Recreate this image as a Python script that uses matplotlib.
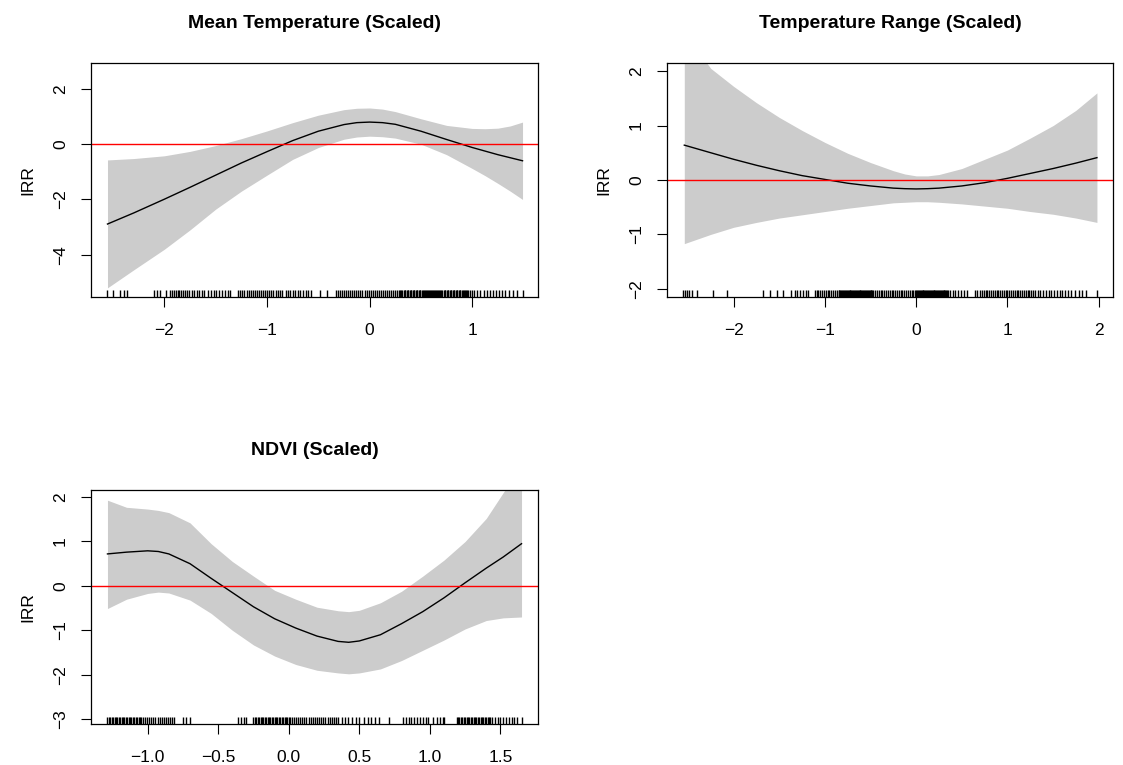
import matplotlib
matplotlib.use("Agg")
import matplotlib.pyplot as plt

plt.rcParams['font.family'] = ['Liberation Sans', 'DejaVu Sans']

# --- Mean Temperature (Scaled) ---
temp_x = [-2.555, -2.3, -2.0, -1.75, -1.5, -1.25, -1.0, -0.75, -0.5, -0.25,
          -0.125, 0.0, 0.125, 0.25, 0.5, 0.75, 1.0, 1.125, 1.25, 1.37, 1.49]
temp_fit = [-2.89, -2.49, -1.99, -1.56, -1.12, -0.68, -0.27, 0.13, 0.47, 0.71,
            0.78, 0.80, 0.78, 0.72, 0.47, 0.17, -0.12, -0.25, -0.38, -0.49, -0.60]
temp_hi = [-0.57, -0.52, -0.42, -0.26, -0.05, 0.20, 0.48, 0.78, 1.05, 1.25,
           1.30, 1.31, 1.27, 1.18, 0.92, 0.68, 0.57, 0.56, 0.58, 0.66, 0.80]
temp_lo = [-5.20, -4.55, -3.80, -3.10, -2.35, -1.70, -1.12, -0.55, -0.12, 0.18,
           0.26, 0.29, 0.27, 0.22, 0.00, -0.38, -0.88, -1.14, -1.42, -1.70, -2.00]
temp_rug = [-2.555, -2.505, -2.435, -2.39, -2.36, -2.10, -2.07, -2.04,
            -1.98, -1.95, -1.93, -1.91, -1.89, -1.87, -1.86, -1.84, -1.82, -1.80,
            -1.78, -1.76, -1.73, -1.71, -1.68, -1.66, -1.63, -1.61, -1.58, -1.55,
            -1.52, -1.50, -1.47, -1.44, -1.41, -1.38, -1.36,
            -1.28, -1.26, -1.24, -1.22, -1.20, -1.18, -1.16, -1.14, -1.12, -1.10,
            -1.08, -1.06, -1.04, -1.02, -1.00, -0.98, -0.96, -0.94, -0.91, -0.89,
            -0.87, -0.85, -0.82, -0.80, -0.78, -0.75, -0.73, -0.70, -0.68, -0.65,
            -0.62, -0.60, -0.57, -0.48, -0.42,
            -0.33, -0.31, -0.29, -0.27, -0.25, -0.23, -0.21, -0.19, -0.17, -0.15,
            -0.13, -0.11, -0.09, -0.07, -0.05, -0.03, -0.01, 0.01, 0.03, 0.05,
            0.07, 0.09, 0.11, 0.13, 0.15, 0.17, 0.19, 0.21, 0.23, 0.25, 0.27,
            0.29, 0.30, 0.31, 0.32, 0.33, 0.34, 0.345, 0.36, 0.37, 0.375, 0.39,
            0.40, 0.405, 0.42, 0.43, 0.435, 0.45, 0.46, 0.465, 0.48, 0.49, 0.495,
            0.51, 0.52, 0.525, 0.54, 0.55, 0.555, 0.57, 0.58, 0.585, 0.60, 0.61,
            0.615, 0.63, 0.64, 0.645, 0.66, 0.67, 0.675, 0.69, 0.70, 0.705, 0.72,
            0.73, 0.735, 0.75, 0.76, 0.765, 0.78, 0.79, 0.795, 0.81, 0.82, 0.825,
            0.84, 0.85, 0.855, 0.87, 0.88, 0.885, 0.90, 0.91, 0.92, 0.93, 0.94,
            0.95, 0.96, 0.98, 1.00, 1.02, 1.05, 1.08, 1.11, 1.14, 1.17,
            1.20, 1.23, 1.26, 1.29, 1.32, 1.36, 1.40, 1.44, 1.49]

# --- Temperature Range (Scaled) ---
range_x = [-2.54, -2.25, -2.0, -1.75, -1.5, -1.25, -1.0, -0.75, -0.5, -0.25,
           -0.125, 0.0, 0.125, 0.25, 0.5, 0.75, 1.0, 1.25, 1.5, 1.75, 1.98]
range_fit = [0.64, 0.50, 0.38, 0.27, 0.17, 0.08, 0.01, -0.06, -0.11, -0.15,
             -0.16, -0.165, -0.16, -0.15, -0.11, -0.05, 0.03, 0.12, 0.21, 0.31,
             0.41]
range_hi = [2.70, 2.05, 1.72, 1.42, 1.15, 0.91, 0.69, 0.49, 0.32, 0.17,
            0.11, 0.075, 0.075, 0.10, 0.21, 0.38, 0.55, 0.77, 1.00, 1.28, 1.60]
range_lo = [-1.17, -1.00, -0.87, -0.78, -0.70, -0.64, -0.58, -0.52, -0.47, -0.42,
            -0.41, -0.40, -0.40, -0.41, -0.44, -0.48, -0.52, -0.58, -0.63, -0.70,
            -0.78]
range_rug = [-2.55, -2.53, -2.51, -2.49, -2.46, -2.40, -2.23, -2.07,
             -1.68, -1.60, -1.53, -1.46, -1.37, -1.33, -1.30, -1.27, -1.24, -1.21,
             -1.19, -1.11, -1.09, -1.07, -1.05, -1.03, -1.01, -0.99, -0.97, -0.95,
             -0.93, -0.91, -0.89, -0.87, -0.85, -0.84, -0.83, -0.82, -0.81, -0.80,
             -0.79, -0.78, -0.77, -0.76, -0.75, -0.74, -0.73, -0.72, -0.71, -0.70,
             -0.69, -0.68, -0.67, -0.66, -0.65, -0.64, -0.63, -0.62, -0.61, -0.60,
             -0.59, -0.58, -0.57, -0.56, -0.55, -0.54, -0.53, -0.52, -0.51, -0.50,
             -0.49, -0.48, -0.47, -0.45, -0.43, -0.41, -0.39, -0.37, -0.35, -0.33,
             -0.31, -0.29, -0.27, -0.25, -0.23, -0.21, -0.19, -0.17, -0.15, -0.13,
             -0.11, -0.09, -0.07, -0.05, -0.03, -0.01, 0.00, 0.01, 0.02, 0.03,
             0.04, 0.05, 0.06, 0.07, 0.08, 0.09, 0.10, 0.11, 0.12, 0.13, 0.14,
             0.15, 0.16, 0.17, 0.18, 0.19, 0.20, 0.21, 0.22, 0.23, 0.24, 0.25,
             0.26, 0.27, 0.28, 0.29, 0.30, 0.31, 0.32, 0.33, 0.34, 0.35, 0.37,
             0.40, 0.43, 0.46, 0.49, 0.52, 0.56,
             0.64, 0.67, 0.70, 0.72, 0.74, 0.76, 0.78, 0.80, 0.82, 0.84, 0.86,
             0.88, 0.90, 0.92, 0.94, 0.96, 0.98, 1.00, 1.02, 1.04, 1.06, 1.08,
             1.10, 1.12, 1.14, 1.16, 1.18, 1.20, 1.22, 1.24, 1.26, 1.28, 1.30,
             1.33, 1.36, 1.39, 1.42, 1.45, 1.48, 1.51, 1.54, 1.57, 1.60, 1.63,
             1.66, 1.70, 1.74, 1.78, 1.82, 1.86, 1.98]

# --- NDVI (Scaled) ---
ndvi_x = [-1.285, -1.15, -1.0, -0.925, -0.85, -0.7, -0.55, -0.4, -0.25, -0.1,
          0.05, 0.2, 0.35, 0.425, 0.5, 0.65, 0.8, 0.95, 1.1, 1.25, 1.4, 1.52,
          1.65]
ndvi_fit = [0.72, 0.76, 0.79, 0.775, 0.72, 0.50, 0.17, -0.15, -0.47, -0.74,
            -0.95, -1.13, -1.25, -1.27, -1.24, -1.10, -0.85, -0.58, -0.27, 0.07,
            0.40, 0.65, 0.95]
ndvi_hi = [1.93, 1.77, 1.73, 1.70, 1.65, 1.42, 0.95, 0.55, 0.22, -0.10, -0.30,
           -0.48, -0.56, -0.58, -0.55, -0.38, -0.12, 0.22, 0.58, 1.00, 1.52,
           2.10, 2.70]
ndvi_lo = [-0.51, -0.30, -0.17, -0.14, -0.16, -0.32, -0.62, -1.00, -1.33, -1.58,
           -1.77, -1.90, -1.96, -1.98, -1.96, -1.87, -1.68, -1.45, -1.22, -0.97,
           -0.78, -0.72, -0.70]
ndvi_rug = [-1.285, -1.275, -1.265, -1.255, -1.245, -1.235, -1.225, -1.215,
            -1.205, -1.195, -1.185, -1.175, -1.165, -1.155, -1.145, -1.135,
            -1.125, -1.115, -1.105, -1.095, -1.085, -1.075, -1.065, -1.055,
            -1.045, -1.035, -1.02, -1.005, -0.99, -0.975, -0.96, -0.945, -0.93,
            -0.915, -0.90, -0.885, -0.87, -0.855, -0.84, -0.825, -0.81,
            -0.75, -0.73, -0.70,
            -0.36, -0.34, -0.32, -0.30,
            -0.25, -0.24, -0.23, -0.22, -0.21, -0.20, -0.19, -0.18, -0.17, -0.16,
            -0.15, -0.14, -0.13, -0.12, -0.11, -0.10, -0.09, -0.08, -0.07, -0.06,
            -0.05, -0.04, -0.03, -0.02, -0.01, 0.00, 0.01, 0.02, 0.035, 0.05,
            0.065, 0.08, 0.095, 0.11, 0.125, 0.14, 0.155, 0.17, 0.185, 0.20,
            0.215, 0.23, 0.245, 0.26, 0.275, 0.29, 0.305, 0.32, 0.335, 0.35,
            0.38, 0.40, 0.42, 0.45, 0.48, 0.50, 0.53, 0.56, 0.58, 0.61, 0.64,
            0.71,
            0.81, 0.83, 0.85, 0.87, 0.89, 0.91, 0.93, 0.95, 0.97, 0.99, 1.02,
            1.05, 1.07, 1.09, 1.10,
            1.19, 1.20, 1.21, 1.22, 1.23, 1.24, 1.25, 1.26, 1.27, 1.28, 1.29,
            1.30, 1.31, 1.32, 1.33, 1.34, 1.35, 1.36, 1.37, 1.38, 1.39, 1.40,
            1.41, 1.42, 1.43, 1.44, 1.46, 1.48, 1.50, 1.52, 1.54, 1.56, 1.58,
            1.60, 1.62, 1.65]

panels = [
    ("Mean Temperature (Scaled)", temp_x, temp_fit, temp_hi, temp_lo, temp_rug,
     [0.0810, 0.6118, 0.3981, 0.3059], (-2.716, 1.641), (-5.53, 2.94),
     [-2, -1, 0, 1], ["\u22122", "\u22121", "0", "1"],
     [-4, -2, 0, 2], ["\u22124", "\u22122", "0", "2"]),
    ("Temperature Range (Scaled)", range_x, range_fit, range_hi, range_lo, range_rug,
     [0.5939, 0.6118, 0.3972, 0.3059], (-2.73, 2.156), (-2.15, 2.15),
     [-2, -1, 0, 1, 2], ["\u22122", "\u22121", "0", "1", "2"],
     [-2, -1, 0, 1, 2], ["\u22122", "\u22121", "0", "1", "2"]),
    ("NDVI (Scaled)", ndvi_x, ndvi_fit, ndvi_hi, ndvi_lo, ndvi_rug,
     [0.0810, 0.0536, 0.3981, 0.3059], (-1.402, 1.767), (-3.11, 2.16),
     [-1.0, -0.5, 0.0, 0.5, 1.0, 1.5],
     ["\u22121.0", "\u22120.5", "0.0", "0.5", "1.0", "1.5"],
     [-3, -2, -1, 0, 1, 2], ["\u22123", "\u22122", "\u22121", "0", "1", "2"]),
]

fig = plt.figure(figsize=(11.23, 7.65), dpi=100)

for (title, x, fit, hi, lo, rug, rect, xlim, ylim,
     xt, xtl, yt, ytl) in panels:
    ax = fig.add_axes(rect)
    ax.fill_between(x, lo, hi, color="#CCCCCC", lw=0)
    ax.plot(x, fit, color="black", lw=1.0)
    ax.axhline(0, color="red", lw=1.0)
    # rug of observed values along the bottom
    ax.vlines(rug, 0, 0.03, transform=ax.get_xaxis_transform(),
              color="black", lw=1.0)
    ax.set_xlim(*xlim)
    ax.set_ylim(*ylim)
    ax.set_xticks(xt)
    ax.set_xticklabels(xtl)
    ax.set_yticks(yt)
    ax.set_yticklabels(ytl, rotation=90, va="center")
    ax.tick_params(axis="both", direction="out", length=7.5, width=0.8,
                   labelsize=12.5)
    ax.tick_params(axis="x", pad=11)
    ax.tick_params(axis="y", pad=9)
    for s in ax.spines.values():
        s.set_linewidth(0.9)
    ax.set_ylabel("IRR", fontsize=12.5, labelpad=13)
    ax.set_title(title, fontsize=14, fontweight="bold", pad=25)

fig.savefig("out.png", dpi=100)
